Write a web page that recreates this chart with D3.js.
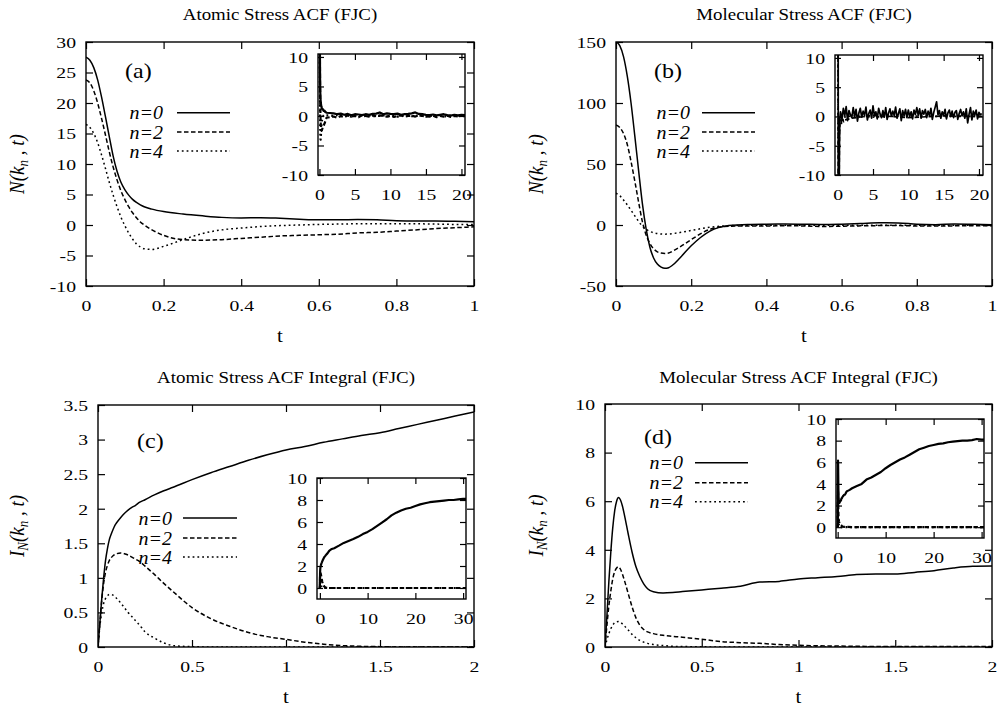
<!DOCTYPE html>
<html>
<head>
<meta charset="utf-8">
<script src="https://cdn.jsdelivr.net/npm/d3@7"></script>
<style>
  body { margin: 0; background: #fff; }
  svg { display: block; font-family: "Liberation Serif", "Times New Roman", serif; }
</style>
</head>
<body>
<svg id="fig" width="998" height="709"></svg>
<script>
// ---- time grids ----
const tAcf = [0, 0.01, 0.02, 0.03, 0.04, 0.05, 0.06, 0.07, 0.08, 0.09, 0.1, 0.11, 0.12, 0.13, 0.14, 0.15, 0.17, 0.2, 0.25, 0.3, 0.35, 0.4, 0.45, 0.5, 0.55, 0.6, 0.65, 0.7, 0.75, 0.8, 0.85, 0.9, 0.95, 1];
const tInt = [0, 0.01, 0.02, 0.03, 0.04, 0.05, 0.06, 0.07, 0.08, 0.09, 0.1, 0.12, 0.14, 0.16, 0.18, 0.2, 0.22, 0.25, 0.3, 0.35, 0.4, 0.5, 0.6, 0.7, 0.8, 0.9, 1.0, 1.1, 1.2, 1.3, 1.4, 1.5, 1.6, 1.7, 1.8, 1.9, 2.0];

// ---- (a) atomic stress ACF ----
const atomN0 = [27.5, 27.0, 25.8, 23.8, 21.0, 17.8, 14.5, 11.3, 8.8, 7.0, 5.8, 4.9, 4.2, 3.7, 3.3, 3.0, 2.6, 2.2, 1.8, 1.5, 1.25, 1.15, 1.2, 1.1, 0.95, 0.85, 0.85, 0.9, 0.85, 0.7, 0.65, 0.65, 0.6, 0.55];
const atomN2 = [23.8, 23.3, 22.0, 20.0, 17.5, 14.8, 12.0, 9.5, 7.4, 5.6, 4.2, 3.0, 2.0, 1.2, 0.5, 0.0, -0.8, -1.7, -2.4, -2.5, -2.4, -2.2, -2.0, -1.8, -1.7, -1.6, -1.5, -1.3, -1.2, -1.0, -0.8, -0.6, -0.45, -0.3];
const atomN4 = [16.5, 16.0, 15.0, 13.5, 11.5, 9.3, 7.0, 4.9, 3.0, 1.3, -0.1, -1.3, -2.3, -3.1, -3.6, -3.9, -4.0, -3.5, -2.4, -1.4, -0.8, -0.5, -0.25, -0.1, 0.0, 0.1, 0.15, 0.2, 0.2, 0.2, 0.2, 0.15, 0.1, 0.1];

// ---- (b) molecular stress ACF ----
const molN0 = [150, 147, 138, 122, 100, 73, 45, 18, -3, -18, -27, -32, -34.5, -35.5, -35, -33, -27, -17, -5, -0.5, 0.5, 0.7, 0.8, 0.6, 0.4, 0.7, 1.2, 1.8, 1.7, 0.6, 0.3, 0.8, 0.6, 0.2];
const molN2 = [82, 80, 75, 66, 52, 36, 19, 3, -8, -15, -19.5, -22, -23, -23.3, -23, -21.5, -18, -12, -3.5, -1, -0.8, -0.8, -0.6, -0.8, -1.2, -1, -0.7, -0.5, -0.5, -0.8, -0.9, -0.7, -0.6, -0.6];
const molN4 = [26, 24, 20.5, 16.5, 12, 7.5, 3, -0.8, -3.5, -5.2, -6.3, -7, -7.4, -7.5, -7.4, -7.1, -6.2, -4.5, -1.8, -0.6, -0.3, -0.3, -0.2, -0.3, -0.3, -0.2, -0.2, -0.1, -0.2, -0.3, -0.2, -0.2, -0.1, -0.1];

// ---- (c) atomic ACF integral ----
const atomI0 = [0, 0.35, 0.7, 1.0, 1.25, 1.42, 1.55, 1.63, 1.7, 1.76, 1.8, 1.87, 1.93, 1.98, 2.02, 2.05, 2.09, 2.13, 2.2, 2.26, 2.31, 2.42, 2.52, 2.61, 2.7, 2.78, 2.85, 2.9, 2.96, 3.01, 3.06, 3.1, 3.16, 3.22, 3.28, 3.34, 3.4];
const atomI2 = [0, 0.35, 0.68, 0.92, 1.08, 1.18, 1.25, 1.29, 1.32, 1.34, 1.35, 1.36, 1.35, 1.33, 1.3, 1.27, 1.24, 1.17, 1.05, 0.92, 0.8, 0.57, 0.41, 0.3, 0.21, 0.15, 0.11, 0.07, 0.04, 0.02, 0.01, 0.005, 0, 0, 0, 0, 0];
const atomI4 = [0, 0.3, 0.5, 0.63, 0.7, 0.74, 0.76, 0.76, 0.75, 0.73, 0.7, 0.64, 0.57, 0.5, 0.44, 0.38, 0.32, 0.22, 0.13, 0.06, 0.02, 0.005, 0, 0, 0, 0, 0, 0, 0, 0, 0, 0, 0, 0, 0, 0, 0];

// ---- (d) molecular ACF integral ----
const molI0 = [0, 1.3, 2.7, 3.9, 4.9, 5.6, 6.0, 6.15, 6.05, 5.8, 5.45, 4.65, 3.9, 3.3, 2.9, 2.6, 2.4, 2.27, 2.22, 2.24, 2.28, 2.35, 2.42, 2.5, 2.67, 2.7, 2.8, 2.85, 2.9, 2.98, 3.0, 3.0, 3.07, 3.14, 3.25, 3.32, 3.33];
const molI2 = [0, 0.9, 1.7, 2.3, 2.8, 3.1, 3.25, 3.3, 3.2, 3.0, 2.75, 2.2, 1.65, 1.2, 0.9, 0.72, 0.62, 0.55, 0.48, 0.44, 0.4, 0.32, 0.22, 0.18, 0.15, 0.1, 0.07, 0.05, 0.04, 0.03, 0.02, 0.02, 0.02, 0.02, 0.02, 0.02, 0.02];
const molI4 = [0, 0.3, 0.55, 0.75, 0.9, 1.0, 1.04, 1.05, 1.02, 0.95, 0.87, 0.7, 0.52, 0.38, 0.27, 0.2, 0.15, 0.1, 0.06, 0.03, 0.02, 0.01, 0, 0, 0, 0, 0, 0, 0, 0, 0, 0, 0, 0, 0, 0, 0];

// ---- inset tails (long-time data) ----
const tTailA = [1.5, 2, 2.5, 3, 3.5, 4, 4.5, 5, 5.5, 6, 6.5, 7, 7.5, 8, 8.5, 9, 9.5, 10, 10.5, 11, 11.5, 12, 12.5, 13, 13.5, 14, 14.5, 15, 15.5, 16, 16.5, 17, 17.5, 18, 18.5, 19, 19.5, 20, 20.5];
const atomTail0 = [0.5, 0.45, 0.3, 0.4, 0.2, 0.35, 0.1, 0.3, 0.25, 0.15, 0.3, 0.2, 0.35, 0.4, 0.6, 0.3, 0.45, 0.35, 0.3, 0.4, 0.2, 0.3, 0.35, 0.45, 0.6, 0.35, 0.3, 0.2, 0.15, 0.25, 0.1, 0.2, 0.3, 0.15, 0.05, 0.2, 0.1, 0.2, 0.15];
const atomTail2 = [-0.2, -0.1, -0.3, 0, -0.2, 0.1, -0.1, 0, -0.2, 0.1, 0, -0.1, 0.1, -0.05, 0.1, 0, -0.1, 0.05, -0.15, 0, 0.1, -0.1, 0, 0.05, -0.1, 0.1, 0, -0.05, -0.1, 0.05, -0.2, 0, -0.1, 0.05, -0.15, 0, -0.1, 0.05, -0.05];
const atomTail4 = [0.1, 0, 0.15, -0.05, 0.1, 0, -0.1, 0.05, 0.1, -0.05, 0, 0.1, -0.1, 0.05, 0, 0.1, -0.05, 0, 0.05, -0.1, 0, 0.1, 0.05, -0.05, 0, 0.1, 0, -0.1, 0.05, 0, -0.05, 0.1, 0, -0.1, 0.05, 0, 0.05, -0.05, 0];

const tTailB = [0.4, 0.6, 0.8, 1, 1.2, 1.4, 1.6, 1.8, 2, 2.2,
  2.4, 2.6, 2.8, 3, 3.2, 3.4, 3.6, 3.8, 4, 4.2,
  4.4, 4.6, 4.8, 5, 5.2, 5.4, 5.6, 5.8, 6, 6.2,
  6.4, 6.6, 6.8, 7, 7.2, 7.4, 7.6, 7.8, 8, 8.2,
  8.4, 8.6, 8.8, 9, 9.2, 9.4, 9.6, 9.8, 10, 10.2,
  10.4, 10.6, 10.8, 11, 11.2, 11.4, 11.6, 11.8, 12, 12.2,
  12.4, 12.6, 12.8, 13, 13.2, 13.4, 13.6, 13.8, 14, 14.2,
  14.4, 14.6, 14.8, 15, 15.2, 15.4, 15.6, 15.8, 16, 16.2,
  16.4, 16.6, 16.8, 17, 17.2, 17.4, 17.6, 17.8, 18, 18.2,
  18.4, 18.6, 18.8, 19, 19.2, 19.4, 19.6, 19.8, 20, 20.2,
  20.4];
const molTail0 = [0.8, -0.5, 1.4, 0.1, 1.7, -0.7, 1.0, 0.3, -0.2, 1.5,
  0.0, 1.2, -0.8, 0.6, 1.4, -0.1, 0.9, 0.2, 1.6, -0.6,
  0.5, 1.1, -0.3, 1.8, 0.1, 0.8, -0.4, 1.4, 0.4, -0.2,
  1.0, -0.1, 1.5, -0.5, 0.6, 1.3, 0.0, 0.9, 0.2, 1.6,
  -0.3, 0.5, 1.3, -0.7, 1.0, 0.1, 1.2, -0.2, 1.1, 0.0,
  0.8, -0.4, 1.1, 0.3, 1.5, 0.2, 1.3, -0.3, 1.0, 0.4,
  1.2, -0.2, 0.9, 0.1, 1.4, -0.5, 0.7, 1.6, 2.5, 0.3,
  1.0, -0.3, 0.8, 0.2, 1.2, -0.4, 0.6, 1.1, 0.0, 0.9,
  -0.2, 0.7, 1.0, -0.5, 0.5, 1.2, 0.1, 0.8, -0.3, 1.3,
  -1.1, 0.4, 1.5, -0.6, 0.9, 0.2, 1.1, -0.4, 0.7, 0.3,
  0.5];
const tTailB2 = [2, 5, 10, 15, 20.5];
const molTail2 = [-0.3, 0.2, -0.2, 0.1, 0];
const molTail4 = [0.1, -0.1, 0.1, 0, 0];

const tTailC = [2.5, 3, 4, 5, 6, 7, 8, 9, 10, 11, 12, 13, 14, 15, 16, 17, 18, 19, 20, 21, 22, 23, 24, 25, 26, 27, 28, 29, 30, 30.6];
const atomTailI0 = [3.55, 3.62, 3.85, 4.1, 4.28, 4.45, 4.65, 4.9, 5.1, 5.35, 5.65, 5.95, 6.25, 6.6, 6.85, 7.05, 7.2, 7.3, 7.45, 7.6, 7.7, 7.8, 7.85, 7.9, 7.95, 8.0, 8.0, 8.05, 8.1, 8.1];
const molTailI0 = [3.45, 3.6, 3.8, 4.0, 4.4, 4.6, 4.85, 5.1, 5.45, 5.75, 6.0, 6.25, 6.45, 6.7, 6.95, 7.2, 7.35, 7.5, 7.6, 7.7, 7.75, 7.85, 7.9, 7.95, 8.0, 8.0, 8.05, 8.15, 8.1, 8.1];
const tFlat = [5, 10, 15, 20, 25, 30.6];
const flatTail = [0, 0, 0, 0, 0, 0];

// ---- ticks and labels ----
const ticksT1 = [0, 0.2, 0.4, 0.6, 0.8, 1];
const ticksT2 = [0, 0.5, 1, 1.5, 2];
const ticksYA = [-10, -5, 0, 5, 10, 15, 20, 25, 30];
const ticksYB = [-50, 0, 50, 100, 150];
const ticksYC = [0, 0.5, 1, 1.5, 2, 2.5, 3, 3.5];
const ticksYD = [0, 2, 4, 6, 8, 10];
const ticksInsetT1 = [0, 5, 10, 15, 20];
const ticksInsetY1 = [-10, -5, 0, 5, 10];
const ticksInsetT2 = [0, 10, 20, 30];
const ticksInsetY2 = [0, 2, 4, 6, 8, 10];
const seriesNames = ["n=0", "n=2", "n=4"];
const titles = ["Atomic Stress ACF (FJC)", "Molecular Stress ACF (FJC)", "Atomic Stress ACF Integral (FJC)", "Molecular Stress ACF Integral (FJC)"];
const tags = ["(a)", "(b)", "(c)", "(d)"];

// ---- styles ----
const SX = 1.27;
const TICK_FS = 15.5;
const FONT = "'Liberation Serif', 'Times New Roman', serif";
const dashes = [null, "4.5,2.5", "1.8,3"];

const svg = d3.select("#fig");
let clipCount = 0;

function styleTicks(axisG, dx, dy, anchor) {
  axisG.attr("font-family", FONT);
  axisG.selectAll(".tick text")
    .attr("x", null).attr("y", null).attr("dy", null)
    .attr("text-anchor", anchor)
    .attr("font-size", TICK_FS)
    .attr("fill", "#000")
    .attr("transform", `translate(${dx},${dy}) scale(${SX},1)`);
}

function frame(g, box, xs, ys, xt, yt, tick) {
  const [l, t, r, b] = box;
  const fmt = (d) => String(d);
  const bottom = g.append("g").attr("transform", `translate(0,${b})`)
    .call(d3.axisBottom(xs).tickValues(xt).tickSize(-tick).tickFormat(fmt));
  styleTicks(bottom, 0, 25, "middle");
  const left = g.append("g").attr("transform", `translate(${l},0)`)
    .call(d3.axisLeft(ys).tickValues(yt).tickSize(-tick).tickFormat(fmt));
  styleTicks(left, -10, 5.3, "end");
  g.append("g").attr("transform", `translate(0,${t})`)
    .call(d3.axisTop(xs).tickValues(xt).tickSize(-tick).tickFormat(""));
  g.append("g").attr("transform", `translate(${r},0)`)
    .call(d3.axisRight(ys).tickValues(yt).tickSize(-tick).tickFormat(""));
  g.selectAll(".domain").remove();
  g.selectAll(".tick line").attr("stroke", "#000").attr("stroke-width", 1.2);
  g.append("rect")
    .attr("x", l).attr("y", t).attr("width", r - l).attr("height", b - t)
    .attr("fill", "none").attr("stroke", "#000").attr("stroke-width", 1.4);
}

function addClip(box) {
  const id = "clip" + (clipCount++);
  svg.append("clipPath").attr("id", id).append("rect")
    .attr("x", box[0]).attr("y", box[1])
    .attr("width", box[2] - box[0]).attr("height", box[3] - box[1]);
  return id;
}

function drawLine(g, xs, ys, ts, vs, dash, width, clipId, curve) {
  const line = d3.line()
    .x((d, i) => xs(ts[i]))
    .y((d) => ys(d))
    .curve(curve);
  g.append("path")
    .attr("d", line(vs))
    .attr("fill", "none")
    .attr("stroke", "#000")
    .attr("stroke-width", width)
    .attr("stroke-linejoin", "round")
    .attr("stroke-dasharray", dash)
    .attr("clip-path", `url(#${clipId})`);
}

function text(g, x, y, str, size, sx, anchor, italic) {
  return g.append("text")
    .attr("transform", `translate(${x},${y}) scale(${sx},1)`)
    .attr("text-anchor", anchor)
    .attr("font-size", size)
    .attr("font-style", italic ? "italic" : null)
    .attr("fill", "#000")
    .text(str);
}

function yLabel(g, x, y, integral) {
  const t = g.append("text")
    .attr("transform", `translate(${x},${y}) scale(1.1,1) rotate(-90)`)
    .attr("text-anchor", "middle")
    .attr("font-size", 19)
    .attr("font-style", "italic")
    .attr("fill", "#000");
  if (integral) {
    t.append("tspan").text("I");
    t.append("tspan").attr("dy", 4).attr("font-size", 13).text("N");
    t.append("tspan").attr("dy", -4).text("(k");
  } else {
    t.append("tspan").text("N(k");
  }
  t.append("tspan").attr("dy", 4).attr("font-size", 13).text("n");
  t.append("tspan").attr("dy", -4).text(" , t)");
}

function drawPanel(p) {
  const g = svg.append("g");
  const [l, t, r, b] = p.box;
  const xs = d3.scaleLinear().domain(p.xDomain).range([l, r]);
  const ys = d3.scaleLinear().domain(p.yDomain).range([b, t]);
  const clip = addClip(p.box);

  p.series.forEach((vs, i) => drawLine(g, xs, ys, p.t, vs, dashes[i], 1.5, clip, d3.curveMonotoneX));
  frame(g, p.box, xs, ys, p.xTicks, p.yTicks, 7);

  // title, axis labels, tag
  text(g, (l + r) / 2, p.titleY, p.title, 16, 1.18, "middle", false);
  text(g, (l + r) / 2, b + 56, "t", 19, 1.1, "middle", false);
  yLabel(g, p.yLabelX, (t + b) / 2, p.integral);
  text(g, p.tag[0], p.tag[1], p.tagText, 20, 1.2, "start", false);

  // legend
  seriesNames.forEach((name, i) => {
    const ly = p.legend.rows[i];
    text(g, p.legend.x, ly + 6.5, name, 19, 1.05, "end", true);
    g.append("line")
      .attr("x1", p.legend.x1).attr("x2", p.legend.x2)
      .attr("y1", ly).attr("y2", ly)
      .attr("stroke", "#000").attr("stroke-width", 1.5)
      .attr("stroke-dasharray", dashes[i]);
  });

  // inset
  const ib = p.inset.box;
  const ig = svg.append("g");
  ig.append("rect").attr("x", ib[0]).attr("y", ib[1])
    .attr("width", ib[2] - ib[0]).attr("height", ib[3] - ib[1]).attr("fill", "#fff");
  const ixs = d3.scaleLinear().domain(p.inset.xDomain).range([ib[0], ib[2]]);
  const iys = d3.scaleLinear().domain(p.inset.yDomain).range([ib[3], ib[1]]);
  const iclip = addClip(ib);
  p.inset.series.slice().reverse().forEach((s, k) => {
    const i = p.inset.series.length - 1 - k;
    drawLine(ig, ixs, iys, s.t, s.v, dashes[i], p.inset.width, iclip, d3.curveLinear);
  });
  frame(ig, ib, ixs, iys, p.inset.xTicks, p.inset.yTicks, 6);
}

const panels = [
  {
    title: titles[0], tagText: tags[0], titleY: 20, integral: false,
    box: [86, 42, 474, 286], xDomain: [0, 1], yDomain: [-10, 30],
    xTicks: ticksT1, yTicks: ticksYA, t: tAcf, series: [atomN0, atomN2, atomN4],
    yLabelX: 24, tag: [125, 78],
    legend: { x: 163, x1: 177, x2: 230, rows: [112.7, 132, 151] },
    inset: {
      box: [318, 54, 465, 175], xDomain: [-0.2, 20.5], yDomain: [-10, 10.5],
      xTicks: ticksInsetT1, yTicks: ticksInsetY1, width: 2.2,
      series: [
        { t: tAcf.concat(tTailA), v: atomN0.concat(atomTail0) },
        { t: tAcf.concat(tTailA), v: atomN2.concat(atomTail2) },
        { t: tAcf.concat(tTailA), v: atomN4.concat(atomTail4) }
      ]
    }
  },
  {
    title: titles[1], tagText: tags[1], titleY: 20, integral: false,
    box: [616, 42, 992, 286], xDomain: [0, 1], yDomain: [-50, 150],
    xTicks: ticksT1, yTicks: ticksYB, t: tAcf, series: [molN0, molN2, molN4],
    yLabelX: 543, tag: [654, 78],
    legend: { x: 690, x1: 702, x2: 755, rows: [112.7, 132, 151] },
    inset: {
      box: [835, 55, 983, 175], xDomain: [-0.38, 20.57], yDomain: [-10, 10.5],
      xTicks: ticksInsetT1, yTicks: ticksInsetY1, width: 1.7,
      series: [
        { t: tAcf.slice(0, 20).concat(tTailB), v: molN0.slice(0, 20).concat(molTail0) },
        { t: tAcf.concat(tTailB2), v: molN2.concat(molTail2) },
        { t: tAcf.concat(tTailB2), v: molN4.concat(molTail4) }
      ]
    }
  },
  {
    title: titles[2], tagText: tags[2], titleY: 383, integral: true,
    box: [98, 405, 474, 647], xDomain: [0, 2], yDomain: [0, 3.5],
    xTicks: ticksT2, yTicks: ticksYC, t: tInt, series: [atomI0, atomI2, atomI4],
    yLabelX: 24, tag: [137, 448],
    legend: { x: 172, x1: 183, x2: 237, rows: [518, 538, 557] },
    inset: {
      box: [317, 478, 466, 599], xDomain: [-0.6, 30.6], yDomain: [-1, 10],
      xTicks: ticksInsetT2, yTicks: ticksInsetY2, width: 2.2,
      series: [
        { t: tInt.concat(tTailC), v: atomI0.concat(atomTailI0) },
        { t: tInt.concat(tFlat), v: atomI2.concat(flatTail) },
        { t: tInt.concat(tFlat), v: atomI4.concat(flatTail) }
      ]
    }
  },
  {
    title: titles[3], tagText: tags[3], titleY: 383, integral: true,
    box: [605, 404, 992, 647], xDomain: [0, 2], yDomain: [0, 10],
    xTicks: ticksT2, yTicks: ticksYD, t: tInt, series: [molI0, molI2, molI4],
    yLabelX: 543, tag: [644, 444],
    legend: { x: 683, x1: 695, x2: 748, rows: [462.7, 482.7, 501.7] },
    inset: {
      box: [836, 419, 984, 538], xDomain: [-0.35, 30.5], yDomain: [-1, 10],
      xTicks: ticksInsetT2, yTicks: ticksInsetY2, width: 2.2,
      series: [
        { t: tInt.concat(tTailC), v: molI0.concat(molTailI0) },
        { t: tInt.concat(tFlat), v: molI2.concat(flatTail) },
        { t: tInt.concat(tFlat), v: molI4.concat(flatTail) }
      ]
    }
  }
];

panels.forEach(drawPanel);
</script>
</body>
</html>
